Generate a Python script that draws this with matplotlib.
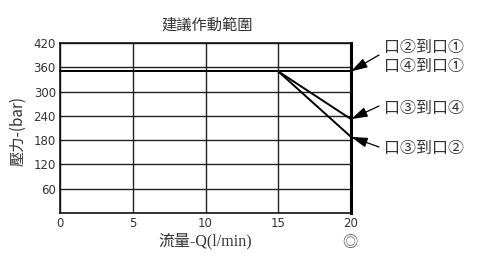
import matplotlib
matplotlib.use("Agg")
import matplotlib.pyplot as plt

plt.rcParams['font.family'] = ['DejaVu Sans', 'Noto Sans CJK TC']

# data
flow_flat = [0, 20]
p_flat = [350, 350]
flow_34 = [15, 20]
p_34 = [350, 232]
flow_32 = [15, 20]
p_32 = [350, 188]
xticks = [0, 5, 10, 15, 20]
yticks = [60, 120, 180, 240, 300, 360, 420]
labels = ["口②到口①\n口④到口①", "口③到口④", "口③到口②"]
title = "建議作動範圍"
xlabel = "流量-Q(l/min)"
ylabel = "壓力-(bar)"

fig = plt.figure(figsize=(5, 2.61), dpi=100)
ax = fig.add_axes([0.12, 0.184, 0.582, 0.651])
ax.set_xlim(0, 20)
ax.set_ylim(0, 420)
ax.set_xticks(xticks)
ax.set_yticks(yticks)
ax.tick_params(length=0, labelsize=8.5, labelcolor='#333333')
ax.tick_params(axis='y', pad=3)
ax.tick_params(axis='x', pad=3)
ax.grid(True, color='#222222', lw=1.0)
ax.set_axisbelow(True)
for s in ['left', 'bottom', 'top']:
    ax.spines[s].set_linewidth(1.2)
    ax.spines[s].set_color('#111111')
ax.spines['right'].set_linewidth(2.2)
ax.spines['right'].set_color('#000000')

ax.plot(flow_flat, p_flat, color='black', lw=1.4, clip_on=False)
ax.plot(flow_34, p_34, color='black', lw=1.4, clip_on=False)
ax.plot(flow_32, p_32, color='black', lw=1.4, clip_on=False)

cjk = ['Noto Sans CJK TC', 'DejaVu Sans']
fig.text(0.414, 0.905, title, ha='center', va='center', fontsize=11,
         family=cjk, color='#333333')
fig.text(0.41, 0.075, xlabel, ha='center', va='center', fontsize=11.5,
         family=['Liberation Serif', 'Noto Sans CJK TC'], color='#333333')
fig.text(0.036, 0.5, ylabel, ha='center', va='center', fontsize=11,
         rotation=90, family=cjk, color='#333333')
fig.text(0.7, 0.072, "◎", ha='center', va='center', fontsize=11,
         family=cjk, color='#555555')

tips = [p_flat[-1], p_34[-1], p_32[-1]]
tails = [(379 / 500, 1 - 55 / 261), (379 / 500, 1 - 106 / 261), (379 / 500, 1 - 147 / 261)]
textpos = [(0.768, 1 - 57 / 261), (0.768, 1 - 108 / 261), (0.768, 1 - 148 / 261)]
for lab, tip, tail, tp in zip(labels, tips, tails, textpos):
    ax.annotate('', xy=(20, tip), xycoords='data', xytext=tail,
                textcoords='figure fraction',
                arrowprops=dict(arrowstyle='-|>,head_length=1.0,head_width=0.3',
                                color='black', lw=0.9, shrinkA=0, shrinkB=0))
    fig.text(tp[0], tp[1], lab, ha='left', va='center', fontsize=11.5,
             family=cjk, color='#333333', linespacing=1.1)

fig.savefig('out.png', dpi=100)
